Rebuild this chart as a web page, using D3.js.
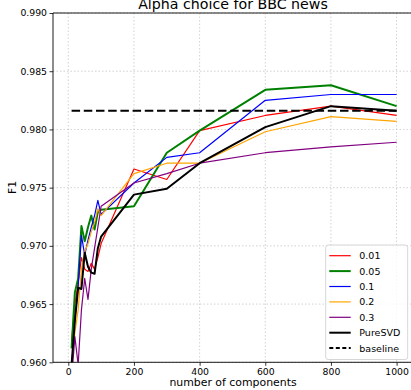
<!DOCTYPE html>
<html><head><meta charset="utf-8">
<script src="https://cdn.jsdelivr.net/npm/d3@7"></script>
<style>body{margin:0;background:#fff}svg{display:block}text{font-family:"DejaVu Sans",sans-serif}</style>
</head><body>
<script>
const components = [10,20,30,40,50,60,70,80,90,100,200,300,400,600,800,1000];
const alpha001 = [0.9618,0.9650,0.9668,0.9690,0.9680,0.9678,0.9685,0.9680,0.9690,0.9702,0.9766,0.9757,0.9799,0.9812,0.9820,0.9812];
const alpha005 = [0.9612,0.9660,0.9672,0.9717,0.9704,0.9716,0.9726,0.9714,0.9729,0.9731,0.9734,0.9780,0.9799,0.9834,0.9838,0.9820];
const alpha01  = [0.9595,0.9636,0.9665,0.9709,0.9692,0.9705,0.9716,0.9726,0.9739,0.9727,0.9754,0.9776,0.9780,0.9825,0.9830,0.9830];
const alpha02  = [0.9598,0.9625,0.9645,0.9680,0.9695,0.9702,0.9712,0.9720,0.9732,0.9726,0.9762,0.9771,0.9771,0.9798,0.9811,0.9807];
const alpha03  = [0.9585,0.9622,0.9598,0.9645,0.9672,0.9654,0.9680,0.9698,0.9716,0.9734,0.9754,0.9762,0.9771,0.9780,0.9785,0.9789];
const pureSVD  = [0.9598,0.9636,0.9664,0.9663,0.9694,0.9682,0.9677,0.9676,0.9698,0.9708,0.9744,0.9749,0.9771,0.9802,0.9820,0.9816];
const baselineX = [10,1000];
const baselineY = [0.9816,0.9816];
const xTicks = [0,200,400,600,800,1000];
const yTicks = [0.960,0.965,0.970,0.975,0.980,0.985,0.990];
const seriesNames = ["0.01","0.05","0.1","0.2","0.3","PureSVD","baseline"];

const W=411,H=390;
const L=53,T=13,B=362.3,R=413;
const x=d3.scaleLinear().domain([0,1000]).range([68.3,396.6]);
const y=d3.scaleLinear().domain([0.960,0.990]).range([B,T]);
const svg=d3.select("body").append("svg").attr("width",W).attr("height",H);
svg.append("defs").append("clipPath").attr("id","c").append("rect").attr("x",L).attr("y",T).attr("width",R-L).attr("height",B-T);

// grid
const g=svg.append("g");
xTicks.forEach(t=>g.append("line").attr("x1",x(t)).attr("x2",x(t)).attr("y1",T).attr("y2",B).attr("stroke","#b0b0b0").attr("stroke-width",0.8).attr("stroke-dasharray","1.5,2").attr("opacity",0.7));
yTicks.forEach(t=>g.append("line").attr("x1",L).attr("x2",R).attr("y1",y(t)).attr("y2",y(t)).attr("stroke","#b0b0b0").attr("stroke-width",0.8).attr("stroke-dasharray","1.5,2").attr("opacity",0.7));

const series=[
 {name:"0.01",vals:alpha001,color:"red",w:1.2},
 {name:"0.05",vals:alpha005,color:"green",w:2},
 {name:"0.1",vals:alpha01,color:"blue",w:1.2},
 {name:"0.2",vals:alpha02,color:"orange",w:1.2},
 {name:"0.3",vals:alpha03,color:"purple",w:1.2},
 {name:"PureSVD",vals:pureSVD,color:"black",w:2},
];
const line=d3.line().x(d=>x(d[0])).y(d=>y(d[1]));
const plot=svg.append("g").attr("clip-path","url(#c)");
series.forEach(s=>{
  plot.append("path").attr("d",line(components.map((c,i)=>[c,s.vals[i]]))).attr("fill","none").attr("stroke",s.color).attr("stroke-width",s.w).attr("stroke-linejoin","round");
});
plot.append("path").attr("d",line(baselineX.map((c,i)=>[c,baselineY[i]]))).attr("fill","none").attr("stroke","black").attr("stroke-width",2).attr("stroke-dasharray","8.5,3.7");

// axes
const xa=svg.append("g").attr("transform",`translate(0,${B})`).call(d3.axisBottom(x).tickValues(xTicks).tickSize(3.5).tickPadding(2.5).tickFormat(d3.format("d")));
const ya=svg.append("g").attr("transform",`translate(${L},0)`).call(d3.axisLeft(y).tickValues(yTicks).tickSize(3.5).tickPadding(2.5).tickFormat(d3.format(".3f")));
[xa,ya].forEach(a=>{a.select(".domain").remove();a.selectAll("text").attr("font-size",9.3).attr("fill","#000").attr("font-family","DejaVu Sans");a.selectAll("line").attr("stroke","#000").attr("stroke-width",0.8);});
svg.append("line").attr("x1",L).attr("x2",L).attr("y1",T).attr("y2",B).attr("stroke","#000").attr("stroke-width",0.9);
svg.append("line").attr("x1",L).attr("x2",R).attr("y1",B).attr("y2",B).attr("stroke","#000").attr("stroke-width",0.9);
svg.append("line").attr("x1",L).attr("x2",R).attr("y1",T).attr("y2",T).attr("stroke","#000").attr("stroke-width",0.9);

svg.append("text").attr("x",233).attr("y",8.5).attr("text-anchor","middle").attr("font-size",14.2).text("Alpha choice for BBC news");
svg.append("text").attr("x",233).attr("y",386).attr("text-anchor","middle").attr("font-size",10.9).text("number of components");
svg.append("text").attr("transform","translate(16,187.5) rotate(-90)").attr("text-anchor","middle").attr("font-size",10.9).text("F1");

// legend
const lg=svg.append("g");
lg.append("rect").attr("x",325.7).attr("y",245).attr("width",82).attr("height",114.5).attr("rx",2.5).attr("fill","#fff").attr("fill-opacity",0.8).attr("stroke","#cccccc").attr("stroke-width",0.8);
const legendItems=series.map(s=>({name:s.name,color:s.color,w:s.w,dash:null})).concat([{name:seriesNames[6],color:"black",w:2,dash:"4,2.5"}]);
legendItems.forEach((it,i)=>{
  const yy=255.7+i*15.4;
  lg.append("line").attr("x1",329.3).attr("x2",350.7).attr("y1",yy).attr("y2",yy).attr("stroke",it.color).attr("stroke-width",it.w).attr("stroke-dasharray",it.dash);
  lg.append("text").attr("x",359.3).attr("y",yy+3.4).attr("font-size",9.5).text(it.name);
});
</script>
</body></html>
